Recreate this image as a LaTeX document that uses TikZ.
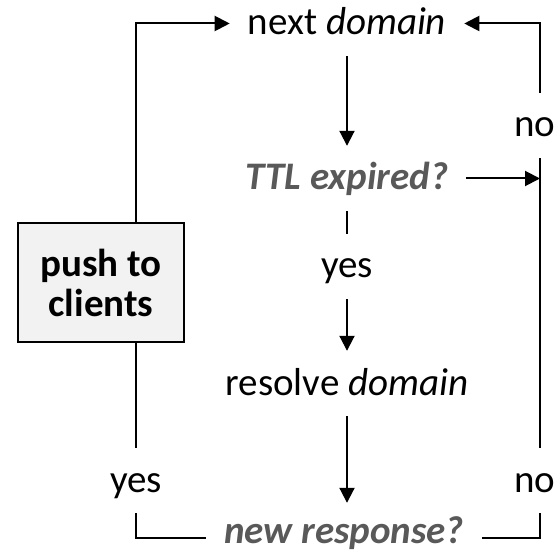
\documentclass[tikz,border=0pt]{standalone}
\usepackage{fontspec}
\setmainfont{Carlito}
\usetikzlibrary{arrows.meta}
\definecolor{qgray}{RGB}{89,89,89}
\definecolor{boxfill}{RGB}{242,242,242}
\begin{document}
\begin{tikzpicture}[x=1pt,y=-1pt,
  lbl/.style={anchor=base,inner xsep=18pt,inner ysep=14pt,
    text height=30pt,text depth=7pt,
    font=\fontsize{39}{40}\selectfont},
  question/.style={lbl,text=qgray,font=\fontsize{39}{40}\selectfont\bfseries\itshape},
  wire/.style={line width=2pt,line join=miter},
  arr/.style={wire,-{Triangle[length=15pt,width=15pt]}},
  pushbox/.style={draw,line width=2.2pt,fill=boxfill,minimum width=166pt,
    minimum height=119pt,align=center,inner sep=0pt,
    font=\fontsize{39}{40}\selectfont\bfseries}]
\useasboundingbox (0,0) rectangle (557,553);

% central column
\node[lbl] (nd) at (347,35) {next \textit{domain}};
\node[question] (ttl) at (347,190) {TTL expired?};
\node[lbl] (ym) at (347,278) {yes};
\node[lbl] (res) at (347,395) {resolve \textit{domain}};
\node[question,text depth=19pt,inner ysep=10pt] (nr) at (344,543) {new response?};

% side branches
\node[pushbox] (push) at (101,282.5) {push to\\clients};
\node[lbl] (yl) at (136,492) {yes};
\node[lbl] (nol) at (535,492) {no};
\node[lbl] (nou) at (535,137) {no};
\coordinate (rx) at (540,0);

% main flow
\draw[arr] (nd) -- (ttl);
\draw[wire] (ttl) -- (ym);
\draw[arr] (ym) -- (res);
\draw[arr] (res.south) -- (nr.north -| res.south);

% "no" branch back to the next domain
\draw[wire] (nr.east) -| (nol.south -| rx);
\draw[wire] (nol.north -| rx) -- (nou.south -| rx);
\draw[arr] (ttl.east) -- (ttl.east -| rx);
\draw[arr] (nou.north -| rx) |- (nd.east);

% "yes" branch through the push box
\draw[wire] (nr.west) -| (yl.south);
\draw[wire] (yl.north) -- (push.south -| yl);
\draw[arr] (push.north -| yl) |- (nd.west);
\end{tikzpicture}
\end{document}
